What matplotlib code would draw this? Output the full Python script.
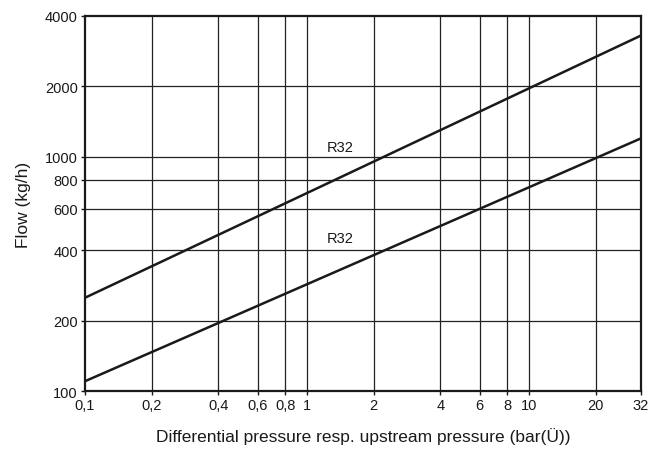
import numpy as np
import matplotlib
matplotlib.use('Agg')
import matplotlib.pyplot as plt
from matplotlib.ticker import FixedLocator, NullLocator

plt.rcParams['font.family'] = ['Liberation Sans', 'DejaVu Sans']

# Data (end points of the two straight log-log lines)
pressure = [0.1, 32]
flow_upper = [250, 3300]
flow_lower = [110, 1200]
line_labels = ['R32', 'R32']
label_pos = [(1.42, 1100), (1.42, 450)]

x_ticks = [0.1, 0.2, 0.4, 0.6, 0.8, 1, 2, 4, 6, 8, 10, 20, 32]
x_tick_labels = ['0,1', '0,2', '0,4', '0,6', '0,8', '1', '2', '4', '6', '8', '10', '20', '32']
y_ticks = [100, 200, 400, 600, 800, 1000, 2000, 4000]
y_tick_labels = ['100', '200', '400', '600', '800', '1000', '2000', '4000']

fig = plt.figure(figsize=(6.52, 4.52), dpi=100)
ax = fig.add_axes([0.130, 0.1327, 0.853, 0.8297])

ax.set_xscale('log')
ax.set_yscale('log')
ax.set_xlim(0.1, 32)
ax.set_ylim(100, 4000)

# Grid
for x in x_ticks[1:-1]:
    ax.axvline(x, color='#222222', lw=0.9, zorder=1)
for y in y_ticks[1:-1]:
    ax.axhline(y, color='#222222', lw=0.9, zorder=1)

ax.plot(pressure, flow_upper, color='#1a1a1a', lw=1.8, zorder=3)
ax.plot(pressure, flow_lower, color='#1a1a1a', lw=1.8, zorder=3)

for lab, (lx, ly) in zip(line_labels, label_pos):
    ax.text(lx, ly, lab, ha='center', va='center', fontsize=10.5, color='#1a1a1a')

ax.xaxis.set_major_locator(FixedLocator(x_ticks))
ax.xaxis.set_minor_locator(NullLocator())
ax.set_xticklabels(x_tick_labels)
ax.yaxis.set_major_locator(FixedLocator(y_ticks))
ax.yaxis.set_minor_locator(NullLocator())
ax.set_yticklabels(y_tick_labels)
ax.tick_params(axis='both', direction='out', length=3, width=1, labelsize=10.5,
               colors='#1a1a1a', pad=2)

for s in ax.spines.values():
    s.set_linewidth(1.6)
    s.set_color('#1a1a1a')

ax.set_xlabel('Differential pressure resp. upstream pressure (bar(Ü))', fontsize=12.5,
              color='#1a1a1a', labelpad=11)
ax.set_ylabel('Flow (kg/h)', fontsize=12.5, color='#1a1a1a', labelpad=10)

fig.savefig('out.png', dpi=100)
